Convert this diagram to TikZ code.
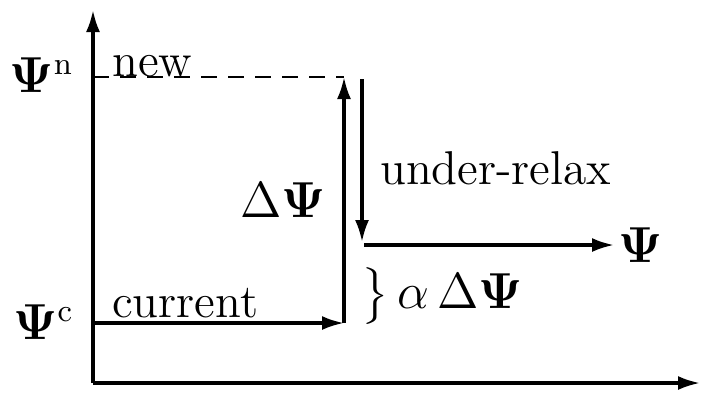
\documentclass[tikz,border=0pt]{standalone}
\usepackage{amsmath,amssymb,bm}
\usetikzlibrary{positioning,arrows.meta,calc}
\tikzset{
  axis/.style={-{Latex[length=2.2mm,width=1.4mm]}, line width=0.9pt, draw=black},
  step arrow/.style={-{Latex[length=2.2mm,width=1.4mm]}, line width=0.9pt, draw=black},
  guide/.style={dashed, line width=0.8pt, dash pattern=on 1.6mm off 1.1mm, draw=black},
  lab/.style={font=\fontsize{13.5}{16}\selectfont, inner sep=1pt},
}

\begin{document}
\begin{tikzpicture}[x=0.1mm, y=-0.1mm]
    \useasboundingbox (0,0) rectangle (707,394);
    % axes
    \coordinate (org) at (93,383);
    \coordinate (ytop) at (93,10);
    \coordinate (xend) at (700,383);
    \draw[axis] (org) -- (ytop);
    \draw[axis] (org) -- (xend);
    % levels
    \coordinate (cur0) at (93,323);
    \coordinate (cur1) at (344,323);
    \coordinate (new0) at (93,77);
    \coordinate (new1) at (344,77);
    \coordinate (rel0) at (362,79);
    \coordinate (rel1) at (362,242);
    \coordinate (psi0) at (364,245);
    \coordinate (psi1) at (614,245);
    % steps
    \draw[guide] (new0) -- (new1);
    \draw[step arrow] (cur0) -- (cur1);
    \draw[step arrow] (cur1) -- (new1);
    \draw[step arrow] (rel0) -- (rel1);
    \draw[step arrow] (psi0) -- (psi1);
    % labels
    \node[lab, anchor=east] (psin) at (78,75) {$\bm{\Psi}^{\mathrm{n}}$};
    \node[lab, anchor=east] (psic) at (78,322) {$\bm{\Psi}^{\mathrm{c}}$};
    \node[lab, anchor=base west] (newlab) at (108,76) {new};
    \node[lab, anchor=base west] (curlab) at (108,317) {current};
    \node[lab, anchor=east] (dpsi) at (330,200) {$\Delta\bm{\Psi}$};
    \node[lab, anchor=west] (rellab) at (376,168) {under-relax};
    \node[lab, anchor=west] (psilab) at (psi1) {$\bm{\Psi}$};
    \node[lab, anchor=west] (alab) at (357,296) {$\big\}\,\alpha\,\Delta\bm{\Psi}$};
\end{tikzpicture}
\end{document}
